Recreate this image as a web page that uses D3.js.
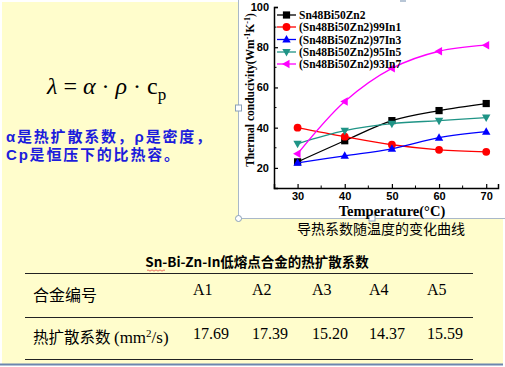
<!DOCTYPE html>
<html><head><meta charset="utf-8">
<script src="https://cdn.jsdelivr.net/npm/d3@7/dist/d3.min.js"></script>
<style>html,body{margin:0;padding:0;background:#fff;}svg{display:block}</style>
</head><body>
<svg id="c" width="505" height="367"></svg>
<script>
const temps = [30, 40, 50, 60, 70];
const seriesNames = ["Sn48Bi50Zn2", "(Sn48Bi50Zn2)99In1", "(Sn48Bi50Zn2)97In3", "(Sn48Bi50Zn2)95In5", "(Sn48Bi50Zn2)93In7"];
const sA1 = [23, 33.5, 43.5, 48.5, 52];
const sA2 = [40, 35.5, 31.5, 29, 28];
const sA3 = [22.5, 26, 29.5, 35, 38];
const sA4 = [32, 38.5, 42, 43.5, 45];
const sA5 = [27, 53, 69.5, 78, 81];
const seriesColors = ["#000000", "#ff0000", "#0000ff", "#1f9486", "#ff00ff"];
const seriesMarkers = ["square", "circle", "triUp", "triDown", "triLeft"];
const xTicks = [30, 40, 50, 60, 70];
const yTicks = [20, 40, 60, 80, 100];
const alloyIds = ["A1", "A2", "A3", "A4", "A5"];
const diffusivity = ["17.69", "17.39", "15.20", "14.37", "15.59"];

const svg = d3.select("#c");
// slide background
svg.append("rect").attr("x",2).attr("y",2).attr("width",501).attr("height",362).attr("fill","#fffdcc");
svg.append("line").attr("x1",0).attr("x2",503).attr("y1",364.5).attr("y2",364.5).attr("stroke","#6b86ad").attr("stroke-width",2);

// chart image
svg.append("rect").attr("x",238.5).attr("y",0).attr("width",266).attr("height",218).attr("fill","#fff");
svg.append("path").attr("d","M238.5,0V218.5H505").attr("fill","none").attr("stroke","#a9b8c9").attr("stroke-width",1);
svg.append("circle").attr("cx",238.5).attr("cy",218.5).attr("r",3).attr("fill","#fff").attr("stroke","#8aa0b8");
svg.append("rect").attr("x",369).attr("y",215).attr("width",6).attr("height",6).attr("fill","#fff").attr("stroke","#8aa0b8");
svg.append("rect").attr("x",235.5).attr("y",105).attr("width",6).attr("height",6).attr("fill","#fff").attr("stroke","#8aa0b8");
svg.append("rect").attr("x",400).attr("y",0).attr("width",6).attr("height",2).attr("fill","#b8c6d6");

const x = d3.scaleLinear().domain([25, 72.5]).range([274, 498]);
const y = d3.scaleLinear().domain([10, 100]).range([188, 7]);

const g = svg.append("g");
// axes
const xAxis = d3.axisBottom(x).tickValues(xTicks).tickSize(-4).tickPadding(4).tickFormat(d3.format("d"));
const gx = g.append("g").attr("transform","translate(0,188)").call(xAxis);
const yAxis = d3.axisLeft(y).tickValues(yTicks).tickSize(-4).tickPadding(5).tickFormat(d3.format("d"));
const gy = g.append("g").attr("transform","translate(274,0)").call(yAxis);
[gx, gy].forEach(a => {
  a.select(".domain").attr("stroke","#000").attr("stroke-width",1.5);
  a.selectAll(".tick line").attr("stroke","#000").attr("stroke-width",1.2);
  a.selectAll("text").attr("font-family","Liberation Sans, Arial, sans-serif").attr("font-weight","bold").attr("font-size",11).attr("fill","#000");
});
// minor ticks
g.append("g").selectAll("line").data([35,45,55,65]).join("line")
  .attr("x1",d=>x(d)).attr("x2",d=>x(d)).attr("y1",188).attr("y2",185.5).attr("stroke","#000").attr("stroke-width",1);
g.append("g").selectAll("line").data([30,50,70,90]).join("line")
  .attr("x1",274).attr("x2",276.5).attr("y1",d=>y(d)).attr("y2",d=>y(d)).attr("stroke","#000").attr("stroke-width",1);

// axis titles
svg.append("text").attr("x",392).attr("y",216).attr("text-anchor","middle")
  .attr("font-family","Liberation Serif, Times New Roman, serif").attr("font-weight","bold").attr("font-size",14.5).text("Temperature(°C)");
const yt = svg.append("text").attr("transform","translate(254,90) rotate(-90)").attr("text-anchor","middle")
  .attr("font-family","Liberation Serif, Times New Roman, serif").attr("font-weight","bold").attr("font-size",11.5);
yt.append("tspan").text("Thermal conducivity(Wm");
yt.append("tspan").attr("dy",-4).attr("font-size",8).text("-1");
yt.append("tspan").attr("dy",4).text("K");
yt.append("tspan").attr("dy",-4).attr("font-size",8).text("-1");
yt.append("tspan").attr("dy",4).text(")");

// markers
function marker(sel, type, color) {
  const s = 3.6;
  if (type === "square") sel.append("rect").attr("x",-s).attr("y",-s).attr("width",2*s).attr("height",2*s).attr("fill",color);
  else if (type === "circle") sel.append("circle").attr("r",s+0.3).attr("fill",color);
  else {
    const pts = {triUp:[[0,-4.5],[4.2,3],[-4.2,3]], triDown:[[0,4.5],[4.2,-3],[-4.2,-3]], triLeft:[[-4.5,0],[3,-4.2],[3,4.2]]}[type];
    sel.append("path").attr("d","M"+pts.map(p=>p.join(",")).join("L")+"Z").attr("fill",color);
  }
}
const allSeries = [sA1, sA2, sA3, sA4, sA5];
const line = d3.line().x((d,i)=>x(temps[i])).y(d=>y(d)).curve(d3.curveCatmullRom.alpha(0.5));
allSeries.forEach((vals, k) => {
  g.append("path").attr("d", line(vals)).attr("fill","none").attr("stroke",seriesColors[k]).attr("stroke-width",1.3);
  vals.forEach((v,i) => {
    const m = g.append("g").attr("transform",`translate(${x(temps[i])},${y(v)})`);
    marker(m, seriesMarkers[k], seriesColors[k]);
  });
});

// legend
const legY = [15, 27, 39.5, 52, 64];
seriesNames.forEach((n,k) => {
  const lg = svg.append("g").attr("transform",`translate(277,${legY[k]})`);
  lg.append("line").attr("x1",0).attr("x2",19).attr("stroke",seriesColors[k]).attr("stroke-width",1.3);
  const m = lg.append("g").attr("transform","translate(9.5,0)");
  marker(m, seriesMarkers[k], seriesColors[k]);
  lg.append("text").attr("x",22).attr("y",4).attr("font-family","Liberation Serif, Times New Roman, serif")
    .attr("font-weight","bold").attr("font-size",11.5).text(n);
});

// caption
svg.append("text").attr("x",381).attr("y",234).attr("text-anchor","middle")
  .attr("font-family","Noto Sans CJK SC, sans-serif").attr("font-size",14).attr("fill","#000").text("导热系数随温度的变化曲线");

// formula
const f = svg.append("text").attr("x",47).attr("y",94).attr("font-family","Liberation Serif, Times New Roman, serif").attr("font-size",24).attr("fill","#000");
f.append("tspan").attr("font-style","italic").text("λ");
f.append("tspan").text(" = ");
f.append("tspan").attr("font-style","italic").text("α");
f.append("tspan").text(" · ");
f.append("tspan").attr("font-style","italic").text("ρ");
f.append("tspan").text(" · c");
f.append("tspan").attr("dy",6).attr("font-size",17).text("p");

// blue text
const bt = [["α是热扩散系数，ρ是密度，",141.5],["Cp是恒压下的比热容。",160]];
bt.forEach(([t,yy]) => svg.append("text").attr("x",6).attr("y",yy).attr("font-family","Liberation Sans, Noto Sans CJK SC, sans-serif")
  .attr("font-weight","bold").attr("font-size",15).attr("letter-spacing",1.8).attr("fill","#1c1cdc").text(t));

// table
svg.append("text").attr("x",257).attr("y",267).attr("text-anchor","middle").attr("font-family","Noto Sans CJK SC, Liberation Sans, sans-serif")
  .attr("font-weight","bold").attr("font-size",13.5).attr("fill","#000").text("Sn-Bi-Zn-In低熔点合金的热扩散系数");
svg.append("path").attr("d","M147,270.5q1,-1.2 2,0t2,0t2,0t2,0t2,0t2,0t2,0t2,0t2,0").attr("fill","none").attr("stroke","#e03030").attr("stroke-width",0.7);
[273.5, 317.5, 359.5].forEach(yy => svg.append("line").attr("x1",25).attr("x2",473).attr("y1",yy).attr("y2",yy).attr("stroke","#222").attr("stroke-width",1.2));
svg.append("text").attr("x",33).attr("y",301).attr("font-family","Noto Sans CJK SC, sans-serif").attr("font-size",16).attr("fill","#000").text("合金编号");
const r2 = svg.append("text").attr("x",33).attr("y",343).attr("font-family","Noto Sans CJK SC, sans-serif").attr("font-size",15.5).attr("fill","#000");
r2.append("tspan").text("热扩散系数 ");
r2.append("tspan").attr("font-family","Liberation Serif, Times New Roman, serif").attr("font-size",17).text(" (mm");
r2.append("tspan").attr("font-family","Liberation Serif, Times New Roman, serif").attr("dy",-6).attr("font-size",11).text("2");
r2.append("tspan").attr("font-family","Liberation Serif, Times New Roman, serif").attr("dy",6).attr("font-size",17).text("/s)");
const colX = [193, 252, 312, 369, 427];
alloyIds.forEach((a,i) => svg.append("text").attr("x",colX[i]).attr("y",295).attr("font-family","Liberation Serif, Times New Roman, serif").attr("font-size",16).text(a));
diffusivity.forEach((v,i) => svg.append("text").attr("x",colX[i]).attr("y",339).attr("font-family","Liberation Serif, Times New Roman, serif").attr("font-size",16).text(v));
</script>
</body></html>
